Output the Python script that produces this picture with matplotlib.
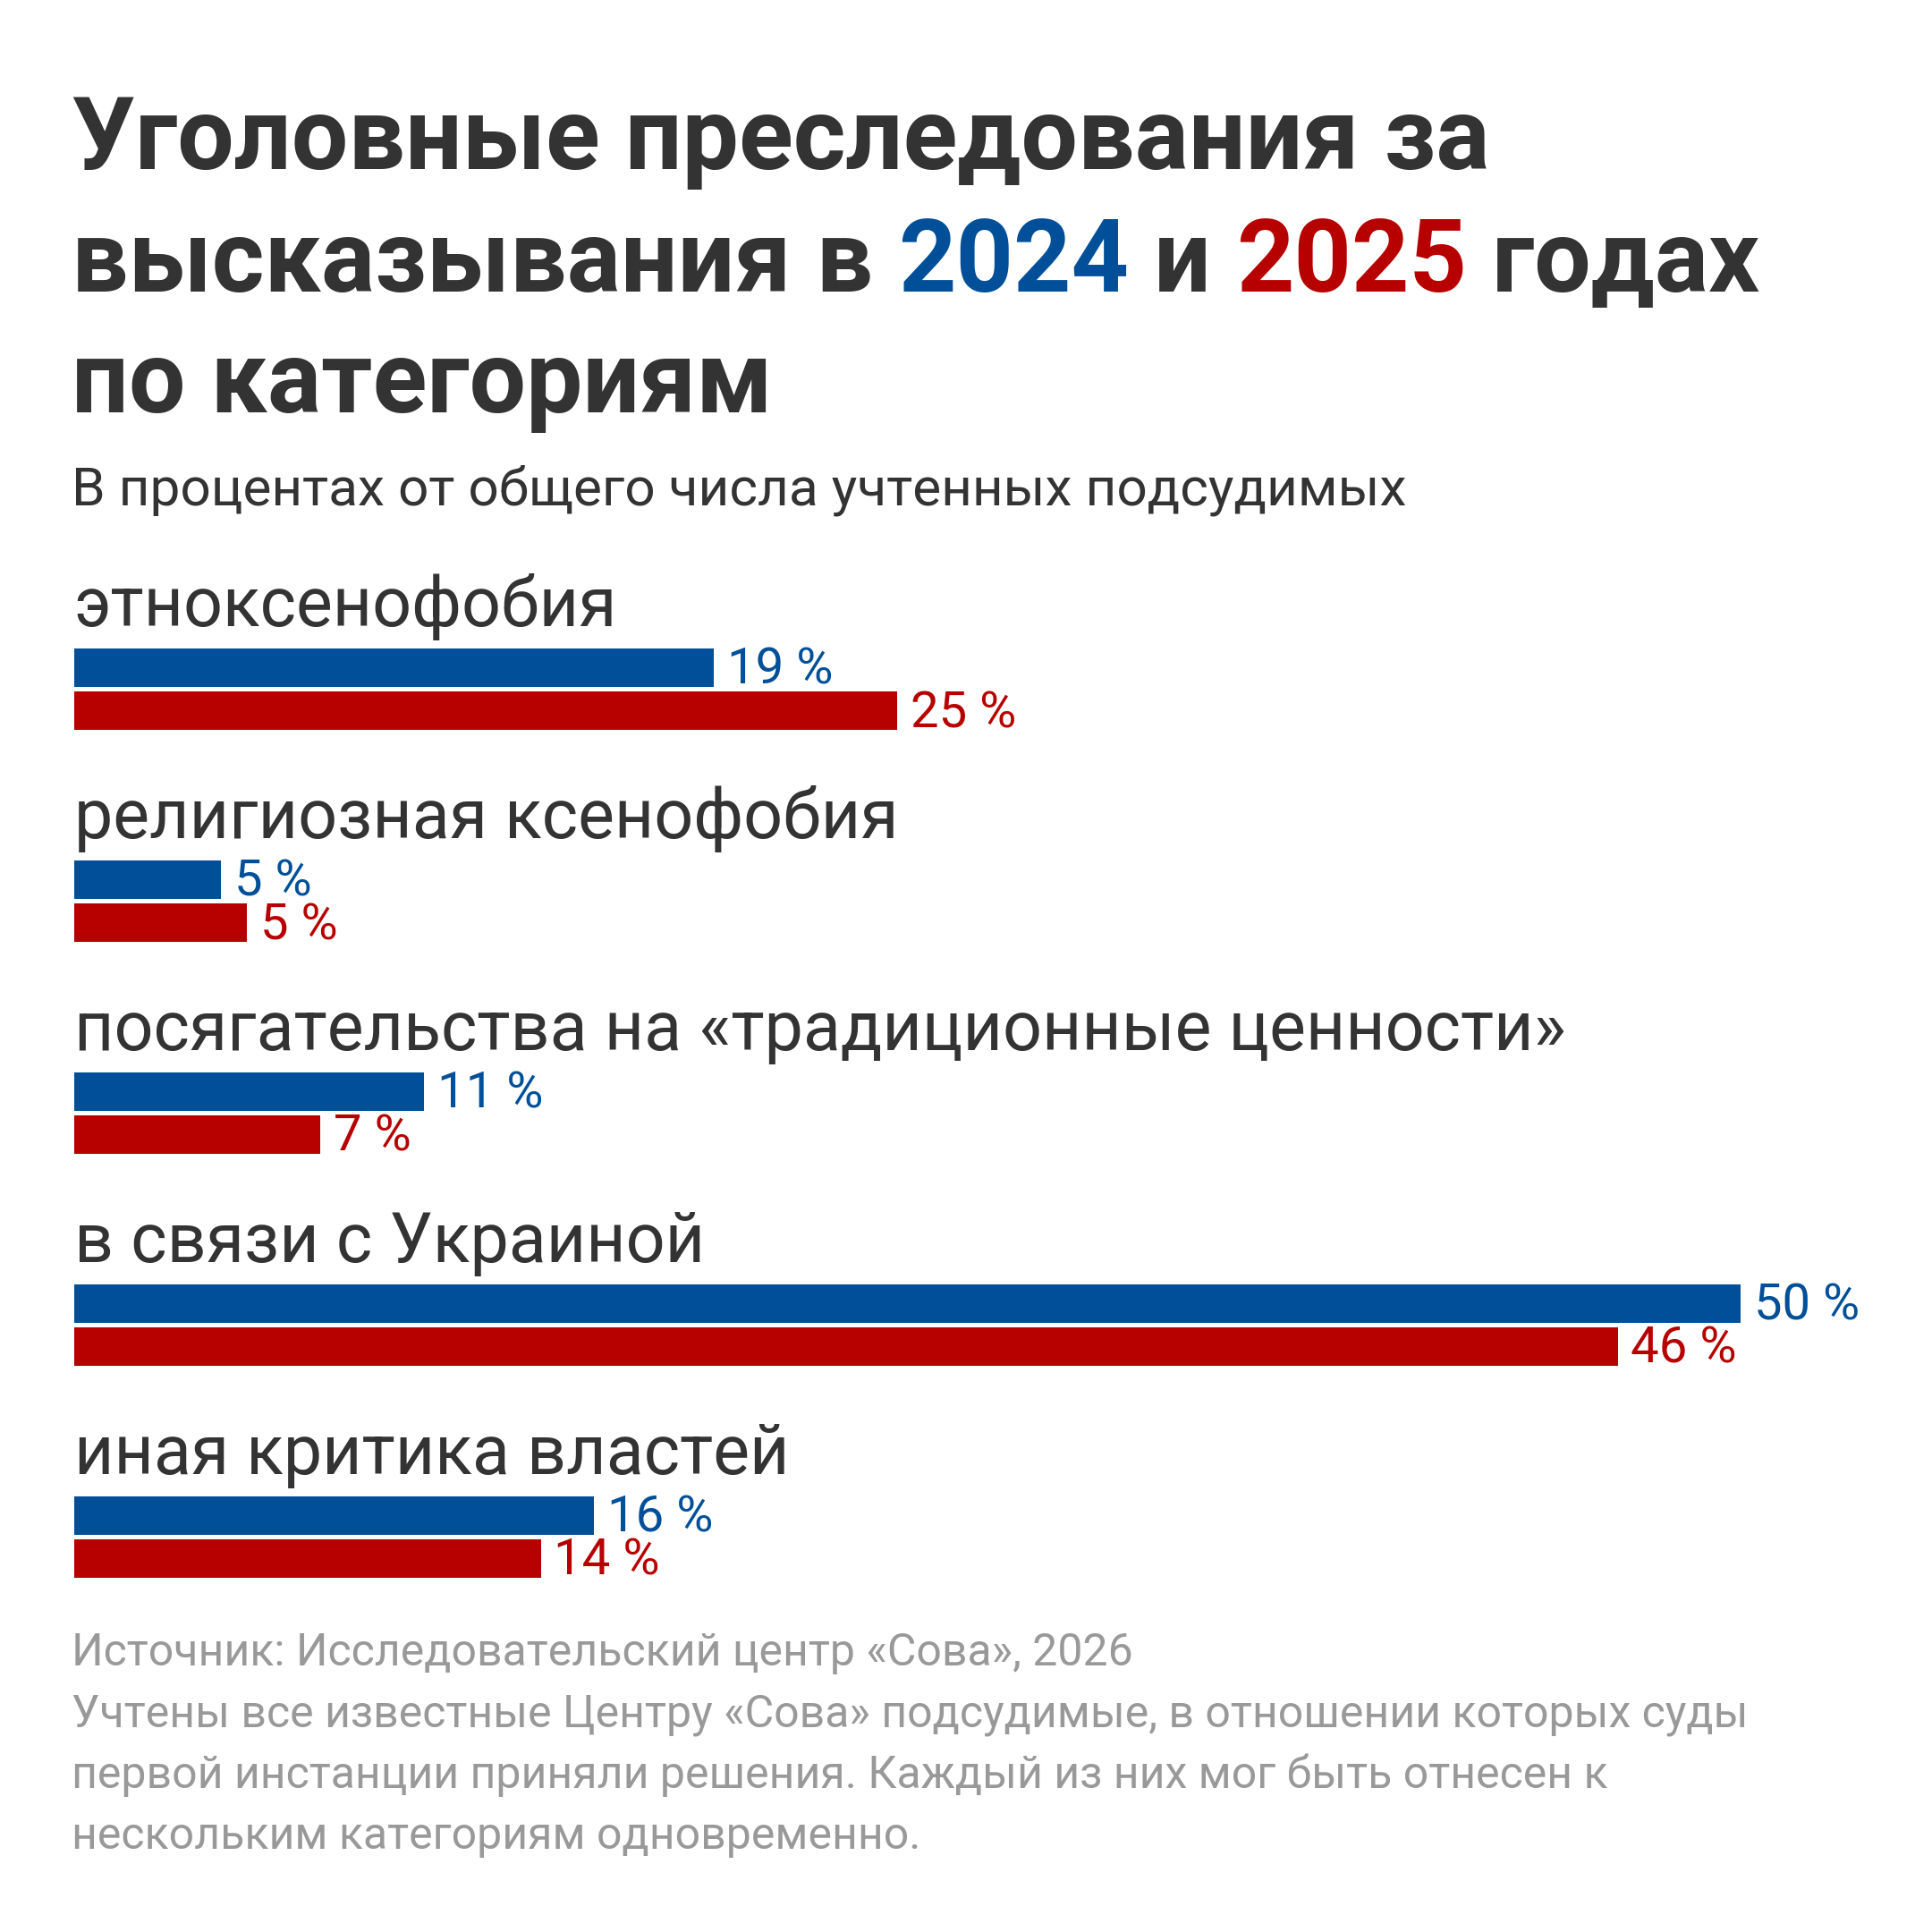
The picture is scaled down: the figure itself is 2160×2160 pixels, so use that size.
import matplotlib
matplotlib.use("Agg")
import matplotlib.pyplot as plt

categories = ["этноксенофобия", "религиозная ксенофобия",
              "посягательства на «традиционные ценности»",
              "в связи с Украиной", "иная критика властей"]
v2024 = [19.2, 4.4, 10.5, 50.0, 15.6]
v2025 = [24.7, 5.2, 7.4, 46.3, 14.0]
lab2024 = ["19 %", "5 %", "11 %", "50 %", "16 %"]
lab2025 = ["25 %", "5 %", "7 %", "46 %", "14 %"]

BLUE = "#004f98"
RED = "#b70000"
DARK = "#333333"
GRAY = "#999999"
S = 1568.0
FAM = ["Roboto", "DejaVu Sans"]
plt.rcParams["font.family"] = FAM

fig = plt.figure(figsize=(7.2, 7.2), dpi=300)
fig.patch.set_facecolor("white")

def fx(x): return x / S
def fy(y): return 1 - y / S

# bar axes: x 0..50 maps to display px 60..1413, y in display px
top, bot = 440, 1300
ax = fig.add_axes([fx(60), fy(bot), fx(1353), (bot - top) / S])
ax.set_xlim(0, 50)
ax.set_ylim(bot, top)
ax.axis("off")
for i, c in enumerate(categories):
    yb = 542 + 172 * i
    yr = yb + 35
    ax.barh(yb, v2024[i], height=31, color=BLUE, left=0)
    ax.barh(yr, v2025[i], height=31, color=RED, left=0)
    ax.text(v2024[i] + 0.4, yb + 2, lab2024[i], color=BLUE, fontsize=13.5, va="center", ha="left")
    ax.text(v2025[i] + 0.4, yr + 2, lab2025[i], color=RED, fontsize=13.5, va="center", ha="left")
    fig.text(fx(60), fy(508 + 172 * i), c, color=DARK, fontsize=18.5, va="baseline", ha="left")

# title
tkw = dict(fontsize=27, fontweight="bold", va="baseline", ha="left")
fig.text(fx(58), fy(137), "Уголовные преследования за", color=DARK, **tkw)
r = fig.canvas.get_renderer()
x = fx(58)
for txt, col in [("высказывания в ", DARK), ("2024", BLUE), (" и ", DARK), ("2025", RED), (" годах", DARK)]:
    t = fig.text(x, fy(237), txt, color=col, **tkw)
    bb = t.get_window_extent(renderer=r)
    x += bb.width / fig.bbox.width
fig.text(fx(58), fy(335), "по категориям", color=DARK, **tkw)
fig.text(fx(58), fy(410), "В процентах от общего числа учтенных подсудимых", color=DARK, fontsize=14.5, va="baseline")

foot = ["Источник: Исследовательский центр «Сова», 2026",
        "Учтены все известные Центру «Сова» подсудимые, в отношении которых суды",
        "первой инстанции приняли решения. Каждый из них мог быть отнесен к",
        "нескольким категориям одновременно."]
for i, f in enumerate(foot):
    fig.text(fx(58), fy(1352 + 49.5 * i), f, color=GRAY, fontsize=12, va="baseline")

fig.savefig("out.png", dpi=300, facecolor="white")
